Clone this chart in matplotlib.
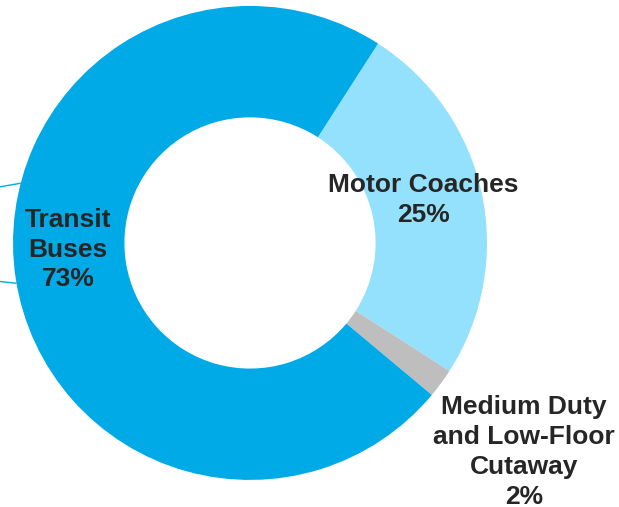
import numpy as np
import matplotlib.pyplot as plt

plt.rcParams['font.family'] = ['Liberation Sans', 'DejaVu Sans']

# bus fleet share by vehicle type
categories = ['Motor Coaches', 'Medium Duty\nand Low-Floor\nCutaway', 'Transit\nBuses']
shares = [25, 2, 73]
colors = ['#94E1FE', '#BEBEBE', '#00AAE7']

fig = plt.figure(figsize=(6.19, 5.07), dpi=100)
ax = fig.add_axes([0, 0, 1, 1])

outer = 1.0
ring = 0.47
wedges, _ = ax.pie(shares, colors=colors, startangle=57.3, counterclock=False,
                   radius=outer, wedgeprops=dict(width=ring, linewidth=0))

txt = dict(ha='center', va='center', fontsize=19, fontweight='bold',
           color='#262626', linespacing=1.3)
ax.text(0.73, 0.181, f'{categories[0]}\n{shares[0]}%', **txt)
ax.text(1.156, -0.882, f'{categories[1]}\n{shares[1]}%', **txt)
ax.text(-0.768, -0.028, f'{categories[2]}\n{shares[2]}%', **txt)

# leader lines running off the left edge
for ang, dy in [(165.4, -0.021), (189.8, 0.013)]:
    a = np.deg2rad(ang)
    x0, y0 = outer * np.cos(a), outer * np.sin(a)
    ax.plot([x0, x0 - 0.12], [y0, y0 + dy], color='#00AAE7', lw=1.0,
            solid_capstyle='butt')

ax.set_xlim(-1.055, 1.557)
ax.set_ylim(-1.114, 1.025)
ax.set_aspect('equal')
ax.axis('off')

fig.savefig('out.png', dpi=100)
